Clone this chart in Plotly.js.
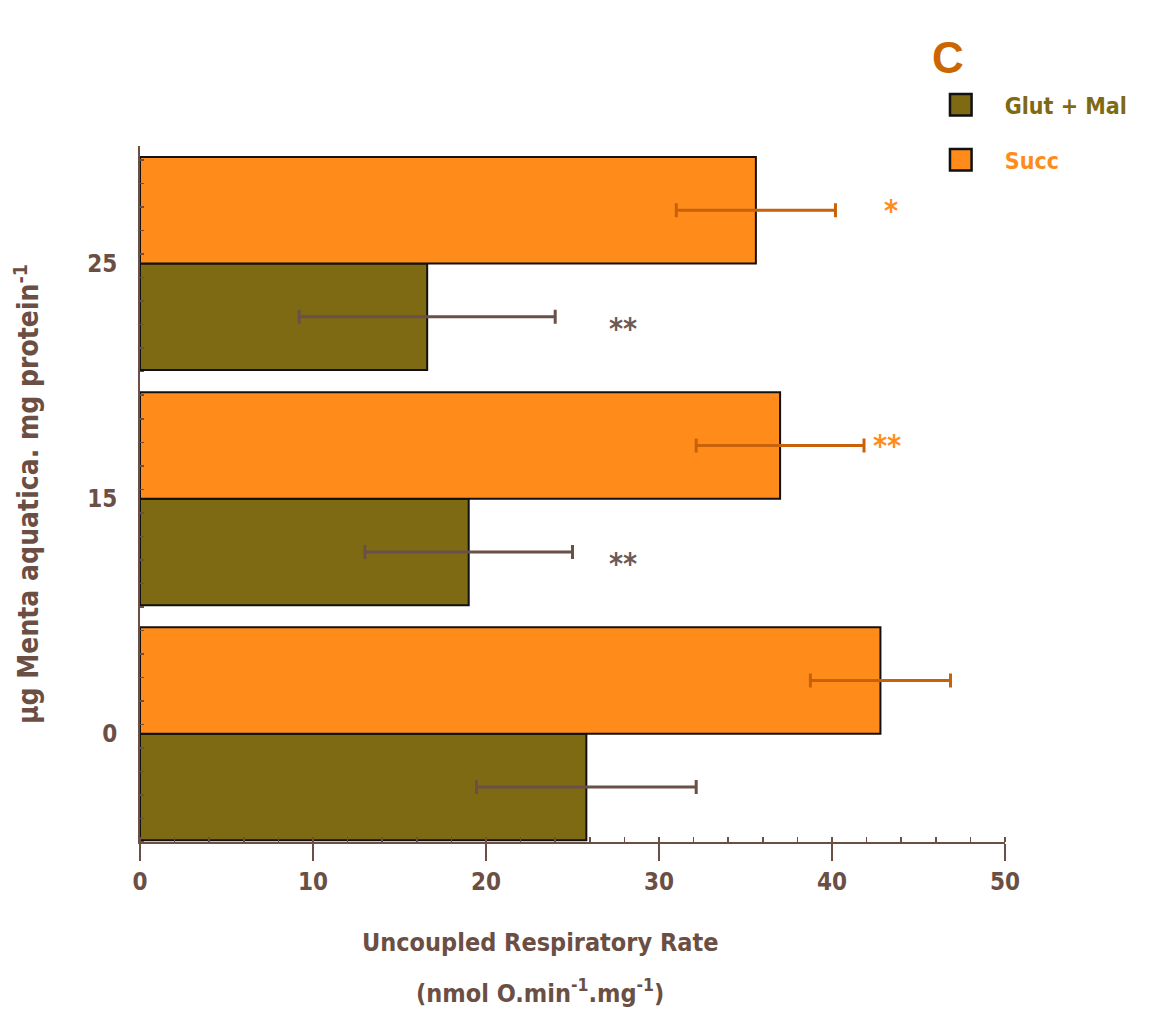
<!DOCTYPE html>
<html>
<head>
<meta charset="utf-8">
<script src="https://cdn.plot.ly/plotly-3.0.1.min.js"></script>
<style>html,body{margin:0;padding:0;background:#fff;}#chart{width:1162px;height:1010px;}</style>
</head>
<body>
<div id="chart"></div>
<script>
// Data
var categories = ["0", "15", "25"];          // µg Menta aquatica / mg protein
var categoryPos = [0, 1, 2];
var glutValues = [25.8, 19.0, 16.6];
var glutErrors = [6.35, 6.0, 7.4];
var succValues = [42.8, 37.0, 35.6];
var succErrors = [4.05, 4.85, 4.6];
var glutSig = ["", "**", "**"];
var succSig = ["", "**", "*"];
var glutSigX = [0, 27.9, 27.9];
var succSigX = [0, 43.2, 43.4];
var xTicks = [0, 10, 20, 30, 40, 50];

var FONT = "Liberation Sans Narrow, Arial Narrow, DejaVu Sans Condensed, Arial, sans-serif";
var AXC = "#6b4f45";
var GLUT = "#7f6a14";
var SUCC = "#ff8c1a";

var traces = [
  {
    type: "bar", orientation: "h", name: "Glut + Mal",
    y: categoryPos, x: glutValues,
    marker: {color: GLUT, line: {color: "#111", width: 2}},
    error_x: {type: "data", array: glutErrors, visible: true, color: "#6b5048", thickness: 3, width: 7},
    legendgroup: "g1"
  },
  {
    type: "bar", orientation: "h", name: "Succ",
    y: categoryPos, x: succValues,
    marker: {color: SUCC, line: {color: "#111", width: 2}},
    error_x: {type: "data", array: succErrors, visible: true, color: "#c8620a", thickness: 3, width: 7},
    legendgroup: "g2"
  }
];

var barHalf = (1 - 0.094) / 4;
var annotations = [];
for (var i = 0; i < categoryPos.length; i++) {
  if (glutSig[i]) annotations.push({x: glutSigX[i], y: categoryPos[i] - barHalf, xref: "x", yref: "y", text: glutSig[i], showarrow: false, yshift: -12, font: {family: FONT, size: 30, weight: 700, color: "#6b5a55"}});
  if (succSig[i]) annotations.push({x: succSigX[i], y: categoryPos[i] + barHalf, xref: "x", yref: "y", text: succSig[i], showarrow: false, yshift: 0, font: {family: FONT, size: 30, weight: 700, color: SUCC}});
}
annotations.push({x: 0.462, y: -0.145, xref: "paper", yref: "paper", text: "Uncoupled Respiratory Rate", showarrow: false, xanchor: "center", yanchor: "middle", font: {family: FONT, size: 25, weight: 700, color: AXC}});
annotations.push({x: 0.462, y: -0.215, xref: "paper", yref: "paper", text: "(nmol O.min<sup>-1</sup>.mg<sup>-1</sup>)", showarrow: false, xanchor: "center", yanchor: "middle", font: {family: FONT, size: 25, weight: 700, color: AXC}});

var layout = {
  width: 1162, height: 1010,
  margin: {l: 140, r: 157, t: 146, b: 168},
  paper_bgcolor: "#fff", plot_bgcolor: "#fff",
  barmode: "group", bargap: 0.094, bargroupgap: 0,
  title: {text: "C", x: 0.802, xref: "container", xanchor: "left", y: 0.943, yref: "container", yanchor: "middle", font: {family: "Liberation Sans, Arial, sans-serif", size: 44, weight: 700, color: "#cc6600"}},
  showlegend: true,
  legend: {x: 0.898, y: 1.09, xanchor: "left", yanchor: "top", traceorder: "grouped", tracegroupgap: 22, itemwidth: 78, font: {family: FONT, size: 23, weight: 700, color: GLUT}, bgcolor: "rgba(0,0,0,0)"},
  xaxis: {
    range: [0, 50], tickvals: xTicks, ticktext: xTicks.map(String),
    showgrid: false, zeroline: false, showline: true, linecolor: AXC, linewidth: 2,
    ticks: "outside", ticklen: 17, tickwidth: 2, tickcolor: AXC,
    minor: {ticks: "inside", dtick: 2, ticklen: 5, tickwidth: 1.5, tickcolor: AXC, showgrid: false},
    tickfont: {family: FONT, size: 24, weight: 700, color: AXC},
    fixedrange: true
  },
  yaxis: {
    range: [-0.46, 2.5], tickvals: categoryPos, ticktext: categories,
    showgrid: false, zeroline: false, showline: true, linecolor: AXC, linewidth: 2,
    ticks: "", tickfont: {family: FONT, size: 24, weight: 700, color: AXC}, ticklabelstandoff: 16,
    minor: {ticks: "inside", dtick: 0.1, tick0: -0.46, ticklen: 4, tickwidth: 1.5, tickcolor: AXC, showgrid: false},
    title: {text: "µg Menta aquatica. mg protein<sup>-1</sup>", standoff: 40, font: {family: FONT, size: 28, weight: 700, color: AXC}},
    fixedrange: true
  },
  annotations: annotations
};

Plotly.newPlot("chart", traces, layout, {displayModeBar: false, staticPlot: true}).then(function(gd){
  var texts = gd.querySelectorAll(".legend .traces .legendtext");
  var cols = [GLUT, SUCC];
  texts.forEach(function(t, i){ t.style.fill = cols[i]; });
  // enlarge legend squares to match the reference (keep Plotly's own offset)
  gd.querySelectorAll(".legend .traces .legendpoints path").forEach(function(p){
    var t = p.getAttribute("transform") || "";
    p.setAttribute("transform", t + " scale(1.8)");
    p.style.strokeWidth = "1.4px";
  });
});
</script>
</body>
</html>
